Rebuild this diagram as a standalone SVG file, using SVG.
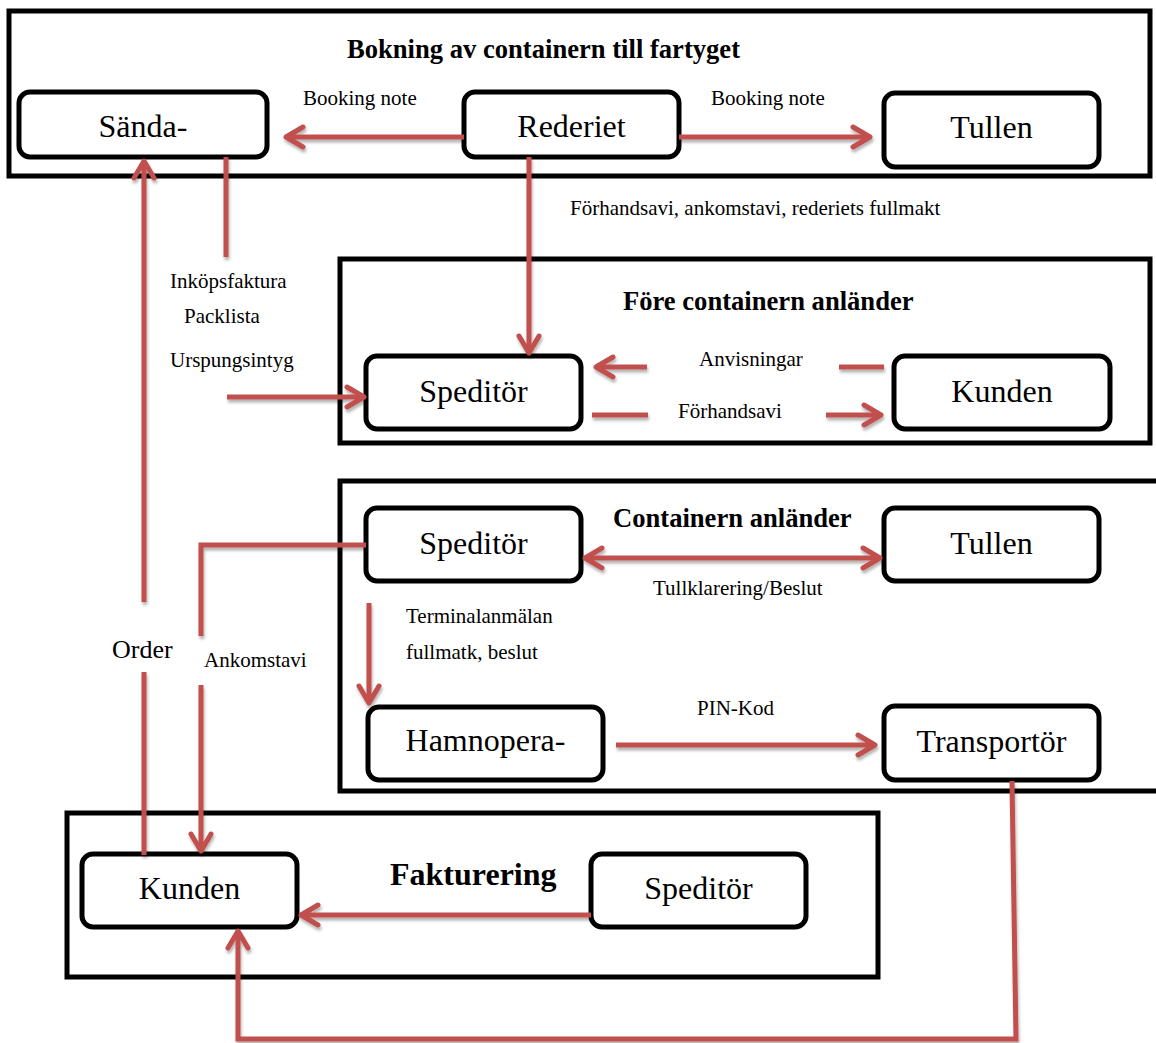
<svg xmlns="http://www.w3.org/2000/svg" width="1156" height="1043" viewBox="0 0 1156 1043">
<style>
.frame{fill:none;stroke:#000;stroke-width:5}
.node{fill:#fff;stroke:#000;stroke-width:5}
.nt{font-family:"Liberation Serif","Times New Roman",serif;font-size:32px;fill:#000;text-anchor:middle}
.lb{font-family:"Liberation Serif","Times New Roman",serif;font-size:21px;fill:#000}
.ttl{font-family:"Liberation Serif","Times New Roman",serif;font-size:26.6px;font-weight:bold;fill:#000}
.cn{fill:none;stroke:#C0504D;stroke-width:5}
</style>
<defs>
<marker id="ah" markerUnits="userSpaceOnUse" viewBox="-22 -14 26 28" markerWidth="26" markerHeight="28" refX="0" refY="0" orient="auto-start-reverse">
<path d="M -17 -10 L 0 0 L -17 10" fill="none" stroke="#C0504D" stroke-width="5" stroke-linecap="round" stroke-linejoin="round"/>
</marker>
<filter id="sh" x="-5%" y="-5%" width="110%" height="110%">
<feDropShadow dx="1" dy="3" stdDeviation="1.5" flood-color="#000" flood-opacity="0.3"/>
</filter>
</defs>
<rect x="0" y="0" width="1156" height="1043" fill="#fff"/>

<g id="frames">
<rect id="frame-bokning" class="frame" x="9" y="11" width="1141" height="165"/>
<rect id="frame-fore" class="frame" x="340" y="259" width="810" height="184"/>
<rect id="frame-containern" class="frame" x="340" y="481" width="830" height="310"/>
<rect id="frame-fakturering" class="frame" x="67" y="813" width="811" height="164"/>
</g>

<g id="titles">
<text class="ttl" x="347" y="58">Bokning av containern till fartyget</text>
<text class="ttl" x="623" y="310">Före containern anländer</text>
<text class="ttl" x="613" y="527">Containern anländer</text>
<text class="ttl" x="390" y="885" style="font-size:32px">Fakturering</text>
</g>

<g id="node-sanda"><rect class="node" x="19" y="92" width="248" height="65" rx="11"/><text class="nt" x="143" y="137">Sända-</text></g>
<g id="node-rederiet"><rect class="node" x="464" y="92" width="215" height="65" rx="11"/><text class="nt" x="571.5" y="137">Rederiet</text></g>
<g id="node-tullen1"><rect class="node" x="884" y="93" width="215" height="74" rx="11"/><text class="nt" x="991.5" y="138">Tullen</text></g>
<g id="node-speditor1"><rect class="node" x="366" y="356" width="215" height="73" rx="11"/><text class="nt" x="473.5" y="402">Speditör</text></g>
<g id="node-kunden1"><rect class="node" x="894" y="356" width="216" height="73" rx="11"/><text class="nt" x="1002" y="402">Kunden</text></g>
<g id="node-speditor2"><rect class="node" x="366" y="508" width="215" height="73" rx="11"/><text class="nt" x="473.5" y="554">Speditör</text></g>
<g id="node-tullen2"><rect class="node" x="884" y="508" width="215" height="73" rx="11"/><text class="nt" x="991.5" y="554">Tullen</text></g>
<g id="node-hamnopera"><rect class="node" x="368" y="707" width="235" height="73" rx="11"/><text class="nt" x="485.5" y="751">Hamnopera-</text></g>
<g id="node-transportor"><rect class="node" x="884" y="706" width="215" height="74" rx="11"/><text class="nt" x="991.5" y="752">Transportör</text></g>
<g id="node-kunden2"><rect class="node" x="82" y="854" width="215" height="73" rx="11"/><text class="nt" x="189.5" y="899">Kunden</text></g>
<g id="node-speditor3"><rect class="node" x="591" y="854" width="215" height="73" rx="11"/><text class="nt" x="698.5" y="899">Speditör</text></g>

<g id="connectors" filter="url(#sh)">
<path class="cn" d="M 464 137 L 286 137" marker-end="url(#ah)"/>
<path class="cn" d="M 679 137 L 870 137" marker-end="url(#ah)"/>
<path class="cn" d="M 529 157 L 529 353" marker-end="url(#ah)"/>
<path class="cn" d="M 226 157 L 226 257"/>
<path class="cn" d="M 227 397 L 364 397" marker-end="url(#ah)"/>
<path class="cn" d="M 647 367 L 596 367" marker-end="url(#ah)"/>
<path class="cn" d="M 839 367 L 884 367"/>
<path class="cn" d="M 592 415 L 648 415"/>
<path class="cn" d="M 826 415 L 881 415" marker-end="url(#ah)"/>
<path class="cn" d="M 585 558 L 880 558" marker-start="url(#ah)" marker-end="url(#ah)"/>
<path class="cn" d="M 369 603 L 369 703" marker-end="url(#ah)"/>
<path class="cn" d="M 616 745 L 875 745" marker-end="url(#ah)"/>
<path class="cn" d="M 366 545 L 201 545 L 201 636"/>
<path class="cn" d="M 201 685 L 201 851" marker-end="url(#ah)"/>
<path class="cn" d="M 144 855 L 144 672"/>
<path class="cn" d="M 144 602 L 144 161" marker-end="url(#ah)"/>
<path class="cn" d="M 591 915 L 301 915" marker-end="url(#ah)"/>
<path class="cn" d="M 1012 781 L 1016 1039 L 238 1039 L 238 931" marker-end="url(#ah)"/>
</g>

<g id="labels">
<text class="lb" x="303" y="105">Booking note</text>
<text class="lb" x="711" y="105">Booking note</text>
<text class="lb" x="570" y="215">Förhandsavi, ankomstavi, rederiets fullmakt</text>
<text class="lb" x="170" y="288">Inköpsfaktura</text>
<text class="lb" x="184" y="323">Packlista</text>
<text class="lb" x="170" y="367">Urspungsintyg</text>
<text class="lb" x="699" y="366">Anvisningar</text>
<text class="lb" x="678" y="418">Förhandsavi</text>
<text class="lb" x="653" y="595">Tullklarering/Beslut</text>
<text class="lb" x="406" y="623">Terminalanmälan</text>
<text class="lb" x="406" y="659">fullmatk, beslut</text>
<text class="lb" x="112" y="658" style="font-size:26px">Order</text>
<text class="lb" x="204" y="667">Ankomstavi</text>
<text class="lb" x="697" y="715">PIN-Kod</text>
</g>
</svg>
